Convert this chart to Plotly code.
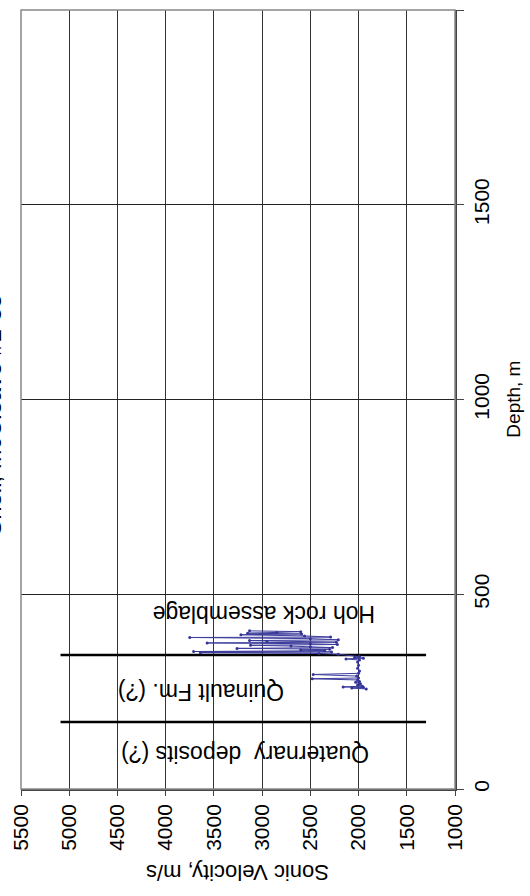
import plotly.graph_objects as go

# sonic log, Shell McCleave #1-33 (depth in m, velocity in m/s)
depth = [257, 259, 261, 262, 264, 267, 270, 274, 276, 280, 283, 285, 290, 294, 297,
         303, 310, 318, 326, 331, 334, 336, 338, 340,
         346, 348, 350, 352, 353, 355, 357, 359, 361, 363, 365, 367, 369, 371, 373,
         375, 377, 379, 381, 383, 386, 389, 390, 393, 396, 398, 400, 402, 404, 406]
velocity = [1920, 2070, 1950, 2160, 1960, 2010, 1980, 2030, 1990, 2010, 2480, 2000, 2020, 2470, 2000,
            1990, 2010, 2000, 2010, 1990, 2130, 1950, 2040, 1990,
            2210, 2410, 3640, 2280, 3710, 2350, 2600, 2300, 3260, 2270, 2500, 2700, 3120, 2220, 2500,
            3570, 2230, 2950, 3130, 2210, 2500, 3750, 2290, 2560, 3220, 2590, 3150, 2850, 2600, 3130]

# formation boundaries
boundary_depths = [172, 344]
boundary_vel = [5090, 1300]

unit_names = ["Quaternary  deposits (?)", "Quinault Fm. (?)", "Hoh rock assemblage"]
unit_vel = [3177, 3628, 2975]
unit_depth = [90, 249, 449]

font = "Arial, Liberation Sans, sans-serif"

fig = go.Figure()

for d in boundary_depths:
    fig.add_trace(go.Scatter(x=boundary_vel, y=[d, d], mode="lines",
                             line=dict(color="black", width=2.5), hoverinfo="skip"))

fig.add_trace(go.Scatter(x=velocity, y=depth, mode="lines+markers",
                         line=dict(color="#3b3b9c", width=1),
                         marker=dict(color="#333399", size=3)))

for name, v, d in zip(unit_names, unit_vel, unit_depth):
    fig.add_annotation(x=v, y=d, text=name, showarrow=False, textangle=180,
                       font=dict(size=23, color="black", family=font))

# title sits mostly beyond the left edge, as in the source image
fig.add_annotation(x=-0.0645, y=0.479, xref="paper", yref="paper", text="Shell, McCleave #1-33",
                   showarrow=False, textangle=-90, xanchor="center", yanchor="middle",
                   font=dict(size=24, color="black", family=font))
fig.add_annotation(x=0.5, y=-0.108, xref="paper", yref="paper", text="Sonic Velocity, m/s",
                   showarrow=False, textangle=180, xanchor="center", yanchor="middle",
                   font=dict(size=22, color="black", family=font))
fig.add_annotation(x=1.134, y=0.5, xref="paper", yref="paper", text="Depth, m",
                   showarrow=False, textangle=-90, xanchor="center", yanchor="middle",
                   font=dict(size=19, color="black", family=font))

fig.add_shape(type="rect", xref="paper", yref="paper", x0=0, y0=0, x1=1, y1=1,
              line=dict(color="#888", width=1.5), layer="above")

fig.update_xaxes(range=[5500, 1000], dtick=500, tickangle=-90, ticks="outside", ticklen=5,
                 tickcolor="#444", showline=True, linecolor="#444", linewidth=1.5,
                 showgrid=True, gridcolor="#333", gridwidth=1, zeroline=False, automargin=False,
                 tickfont=dict(size=21, color="black", family=font))
fig.update_yaxes(range=[0, 2000], dtick=500, side="right", tickangle=-90, ticks="outside",
                 ticklen=7, tickcolor="#444", showline=True, linecolor="#444", linewidth=1.5,
                 showgrid=True, gridcolor="#222", gridwidth=1, zeroline=False, automargin=False,
                 tickfont=dict(size=21, color="black", family=font))

fig.update_layout(width=530, height=896, showlegend=False,
                  margin=dict(l=21, r=75, t=10, b=107, autoexpand=False),
                  plot_bgcolor="white", paper_bgcolor="white")

# drop the default page margin so the figure starts at the window corner
fig.write_html("out.html", config={"displayModeBar": False},
               post_script="document.body.style.margin='0';")
